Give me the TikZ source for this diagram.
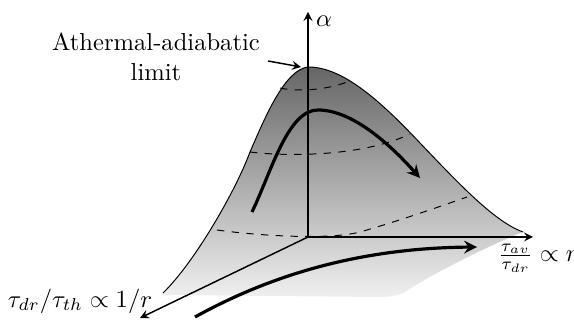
\documentclass[tikz,border=0pt]{standalone}
\usepackage{amsmath,amssymb}
\usepackage{tikz}

\begin{document}
\begin{tikzpicture}[x=0.0143cm,y=-0.0143cm,>=stealth,
  axis/.style={->,semithick},
  contour/.style={dashed,thin},
  path arr/.style={->,line width=1.3pt},
  lbl/.style={inner sep=1pt}]
\useasboundingbox (0,0) rectangle (574,321);
% surface
\shade[top color=black!60,bottom color=black!6]
  (163,293) .. controls (195,262) and (236,190) .. (250,152)
  .. controls (266,115) and (285,70) .. (308,67)
  .. controls (340,67) and (375,95) .. (420,143)
  .. controls (460,185) and (495,222) .. (523,232)
  .. controls (490,245) and (430,275) .. (405,292)
  .. controls (398,296) and (390,297) .. (380,297)
  -- (163,295) -- cycle;
\draw[thin] (163,293) .. controls (195,262) and (236,190) .. (250,152)
  .. controls (266,115) and (285,70) .. (308,67)
  .. controls (340,67) and (375,95) .. (420,143)
  .. controls (460,185) and (495,222) .. (523,232);
% level lines
\draw[contour] (280,88) .. controls (292,91) and (325,92) .. (352,80);
\draw[contour] (250,152) .. controls (280,156) and (360,158) .. (410,134);
\draw[contour] (217,230) .. controls (260,236) and (330,240) .. (360,232)
  .. controls (395,222) and (430,210) .. (467,197);
% axes
\coordinate (O) at (308,237);
\coordinate (atop) at (308,12);
\coordinate (aright) at (533,237);
\coordinate (aleft) at (140,318);
\draw[axis] (O) -- (atop);
\draw[axis] (O) -- (aright);
\draw[axis] (O) -- (aleft);
\node[lbl] (alpha) at (324,21) {$\alpha$};
\node[lbl,anchor=west] (rlab) at (495,258) {$\frac{\tau_{av}}{\tau_{dr}}\propto r$};
\node[lbl] (llab) at (80,301) {$\tau_{dr}/\tau_{th}\propto 1/r$};
% limit
\coordinate (peak) at (301,67);
\node[align=center,inner sep=1pt] (lim) at (156,57) {Athermal-adiabatic\\limit};
\draw[->,semithick] (268,61) -- (peak);
% paths
\draw[path arr] (252,212) .. controls (272,170) and (288,110) .. (318,110)
  .. controls (355,110) and (395,150) .. (420,178);
\draw[path arr] (195,317) .. controls (280,270) and (370,248) .. (477,247);
\end{tikzpicture}
\end{document}
